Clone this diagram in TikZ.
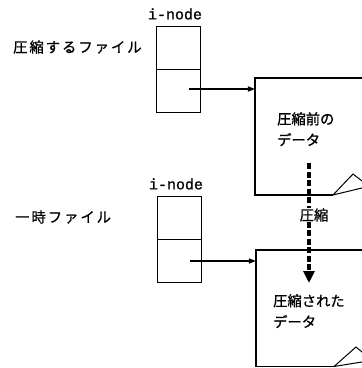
\documentclass[tikz,border=0pt]{standalone}
\usepackage{fontspec}
\newfontfamily\cjk[FakeBold=1]{Noto Sans CJK JP}
\newfontfamily\cjkwide[FakeBold=1,LetterSpace=14]{Noto Sans CJK JP}
\newfontfamily\mono[FakeBold=1.2]{Liberation Mono}
\usetikzlibrary{arrows.meta}
\tikzset{
  cell/.style={draw, line width=0.9pt, minimum width=44pt, minimum height=43pt, inner sep=0pt, outer sep=0pt},
  jlabel/.style={font=\cjk\fontsize{14.3}{21}\selectfont, inner sep=0pt, align=left},
  jwide/.style={font=\cjkwide\fontsize{14.3}{22}\selectfont, inner sep=0pt},
  ilabel/.style={font=\mono\fontsize{15}{15}\selectfont, inner sep=0pt},
  ptr/.style={line width=1.3pt, -{Triangle[length=7pt,width=5pt]}},
  outline/.style={line width=1.1pt},
  bigdash/.style={line width=3.5pt, dash pattern=on 6pt off 2.5pt, -{Triangle[length=12pt,width=11pt]}}
}
\begin{document}
\begin{tikzpicture}[x=1pt,y=-1pt]
\useasboundingbox (0,0) rectangle (362,368);
\clip (0,0) rectangle (362,368);
% top i-node
\node[cell, anchor=north west] (iatop) at (156,26) {};
\node[cell, anchor=north] (iabot) at (iatop.south) {};
\node[ilabel] (ialab) at (175,14) {i-node};
\node[jwide, anchor=west] (falab) at (13,47) {圧縮するファイル};
% bottom i-node
\node[cell, anchor=north west] (ibtop) at (157,196) {};
\node[cell, anchor=north] (ibbot) at (ibtop.south) {};
\node[ilabel] (iblab) at (176,184) {i-node};
\node[jwide, anchor=west] (tmplab) at (15,217) {一時ファイル};
% data box 1
\node[minimum width=125pt, minimum height=117pt, anchor=north west, inner sep=0pt] (data1) at (255,78) {};
\draw[outline] (380,78) -- (255,78) -- (255,195) -- (333,195);
\draw[line width=1pt] (333,195) -- (353,174) -- (366,184) (333,195) -- (366,187);
\node[jlabel, anchor=north west] (d1lab) at (277,112) {圧縮前の\\データ};
% data box 2
\node[minimum width=125pt, minimum height=116pt, anchor=north west, inner sep=0pt] (data2) at (256,250) {};
\draw[outline] (380,250) -- (256,250) -- (256,366.5) -- (334,366.5);
\draw[line width=1pt] (334,366.5) -- (356,347) -- (368,357) (334,366.5) -- (368,361);
\node[jlabel, anchor=north west] (d2lab) at (273,294) {圧縮された\\データ};
% pointers
\coordinate (pa) at (189,89);
\coordinate (pb) at (190,261);
\draw[ptr] (pa) -- (pa -| data1.west);
\draw[ptr] (pb) -- (pb -| data2.west);
% compression arrow
\node[jlabel] (cmp) at (314,215) {圧縮};
\coordinate (cs) at (309,163);
\coordinate (ce) at (309,283);
\draw[line width=3.5pt, dash pattern=on 6pt off 2.5pt] (cs) -- (cmp.north -| cs);
\draw[bigdash] (cmp.south -| cs) -- (ce);
\end{tikzpicture}
\end{document}
